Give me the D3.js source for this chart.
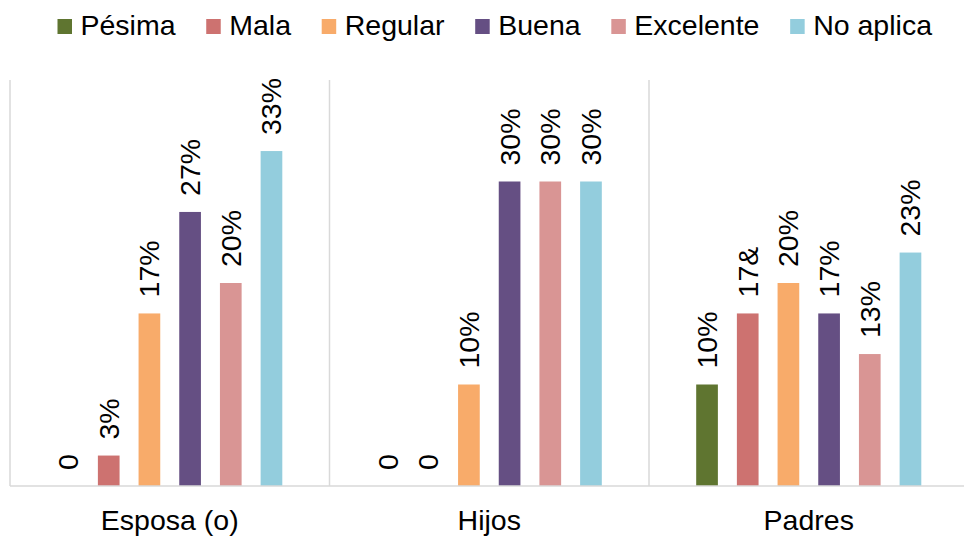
<!DOCTYPE html>
<html>
<head>
<meta charset="utf-8">
<script src="https://cdn.jsdelivr.net/npm/d3@7"></script>
<style>
  html, body { margin: 0; padding: 0; background: #fff; }
  svg { display: block; font-family: "Liberation Sans", Arial, sans-serif; }
</style>
</head>
<body>
<svg id="chart" width="964" height="536"></svg>
<script>
// Groups shown along the x axis
const categories = ["Esposa (o)", "Hijos", "Padres"];
// Rating series (one bar per series inside each group)
const series = ["Pésima", "Mala", "Regular", "Buena", "Excelente", "No aplica"];
const seriesColors = ["#5f7530", "#cd7270", "#f8ab6a", "#654f83", "#d99594", "#93cddd"];

// Percent values per group, in series order
const esposaValues = [0, 3, 17, 27, 20, 33];
const hijosValues  = [0, 0, 10, 30, 30, 30];
const padresValues = [10, 17, 20, 17, 13, 23];

// Data labels as printed above each bar
const esposaLabels = ["0", "3%", "17%", "27%", "20%", "33%"];
const hijosLabels  = ["0", "0", "10%", "30%", "30%", "30%"];
const padresLabels = ["10%", "17&", "20%", "17%", "13%", "23%"];

const groupValues = [esposaValues, hijosValues, padresValues];
const groupLabels = [esposaLabels, hijosLabels, padresLabels];

const svg = d3.select("#chart");
const fontSize = 28.5;
const gridColor = "#d9d9d9";

const plot = { left: 10, right: 968.5, top: 80, bottom: 486 };

const x0 = d3.scaleBand()
  .domain(categories)
  .range([plot.left, plot.right])
  .padding(0);

const x1 = d3.scaleBand()
  .domain(series)
  .range([0, x0.bandwidth()])
  .paddingInner(0.467)
  .paddingOuter(1.16);

const y = d3.scaleLinear()
  .domain([0, 40])
  .range([plot.bottom, plot.top]);

const color = d3.scaleOrdinal().domain(series).range(seriesColors);

// Vertical separators between groups
const edges = categories.map(c => x0(c)).concat([x0(categories[categories.length - 1]) + x0.bandwidth()]);
svg.append("g")
  .selectAll("line")
  .data(edges)
  .join("line")
  .attr("x1", d => d).attr("x2", d => d)
  .attr("y1", plot.top).attr("y2", plot.bottom)
  .attr("stroke", gridColor)
  .attr("stroke-width", 1.5);

// Bars and labels
const groups = svg.append("g")
  .selectAll("g")
  .data(categories.map((c, i) => ({
    cat: c,
    items: series.map((s, j) => ({ s, v: groupValues[i][j], label: groupLabels[i][j] }))
  })))
  .join("g")
  .attr("transform", d => `translate(${x0(d.cat)},0)`);

groups.selectAll("rect")
  .data(d => d.items.filter(it => it.v > 0))
  .join("rect")
  .attr("x", d => x1(d.s))
  .attr("width", x1.bandwidth())
  .attr("y", d => y(d.v))
  .attr("height", d => y(0) - y(d.v))
  .attr("fill", d => color(d.s));

groups.selectAll("text")
  .data(d => d.items)
  .join("text")
  .attr("transform", d => `translate(${x1(d.s) + x1.bandwidth() / 2},${y(d.v) - 16}) rotate(-90)`)
  .attr("dy", "0.35em")
  .attr("text-anchor", "start")
  .attr("font-size", fontSize)
  .attr("fill", "#000")
  .text(d => d.label);

// Baseline
svg.append("line")
  .attr("x1", plot.left).attr("x2", 964)
  .attr("y1", plot.bottom).attr("y2", plot.bottom)
  .attr("stroke", gridColor)
  .attr("stroke-width", 1.5);

// Category axis labels
svg.append("g")
  .selectAll("text")
  .data(categories)
  .join("text")
  .attr("x", d => x0(d) + x0.bandwidth() / 2)
  .attr("y", 530)
  .attr("text-anchor", "middle")
  .attr("font-size", fontSize)
  .attr("fill", "#000")
  .text(d => d);

// Legend across the top, spread between a fixed start and end
const legendStart = 57.5, legendEnd = 932;
const swatch = 14.5, swatchGap = 8.5;
const legend = svg.append("g");
const items = series.map((s, i) => {
  const g = legend.append("g");
  g.append("rect")
    .attr("x", 0).attr("y", 19)
    .attr("width", swatch).attr("height", 15)
    .attr("fill", seriesColors[i]);
  const t = g.append("text")
    .attr("x", swatch + swatchGap).attr("y", 35)
    .attr("font-size", fontSize)
    .attr("fill", "#000")
    .text(s);
  return { g, w: swatch + swatchGap + t.node().getComputedTextLength() };
});
const totalW = d3.sum(items, d => d.w);
const gap = (legendEnd - legendStart - totalW) / (items.length - 1);
let lx = legendStart;
items.forEach(it => {
  it.g.attr("transform", `translate(${lx},0)`);
  lx += it.w + gap;
});
</script>
</body>
</html>
